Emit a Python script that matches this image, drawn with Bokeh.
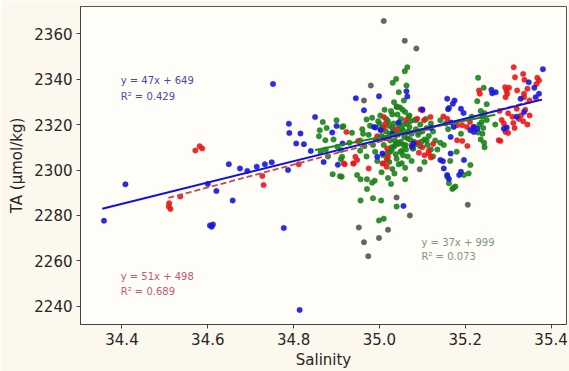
from bokeh.plotting import figure
from bokeh.models import Label, Range1d, FixedTicker, NumeralTickFormatter
from bokeh.embed import file_html
from bokeh.resources import INLINE

# ---------------- data ----------------
blue_sal = [34.358, 34.408, 34.600, 34.605, 34.609, 34.612, 34.620, 34.649, 34.658, 34.675,
            34.692, 34.714, 34.733, 34.749, 34.752, 34.777, 34.787, 34.789, 34.790, 34.806,
            34.814, 34.816, 34.824, 34.840, 34.850, 34.870, 34.890, 34.900, 34.903, 34.914,
            34.945, 34.964, 34.999, 34.991, 35.056, 35.063, 35.065, 35.148, 35.158, 35.162,
            35.175, 35.171, 35.160, 35.190, 35.196, 35.166, 35.166, 35.197, 35.150, 35.158,
            35.162, 35.190, 35.186, 35.261, 35.271, 35.381, 35.348, 35.361, 35.329, 35.297,
            35.167, 35.173, 35.080, 35.076, 34.987, 35.003, 35.007, 34.995, 35.220, 35.228,
            35.212, 35.220, 35.372, 35.364, 35.290, 35.337, 35.142, 35.320, 35.100, 35.263,
            35.030, 35.045, 35.120]
blue_ta = [2277.7, 2293.7, 2293.9, 2275.6, 2275.0, 2276.0, 2290.8, 2302.6, 2286.6, 2300.7,
           2299.6, 2301.5, 2302.5, 2303.4, 2337.9, 2274.5, 2300.0, 2320.4, 2316.3, 2311.7,
           2238.4, 2316.1, 2311.4, 2308.4, 2323.3, 2303.5, 2316.5, 2319.4, 2302.3, 2311.7,
           2331.6, 2326.3, 2332.5, 2318.7, 2284.2, 2334.7, 2332.4, 2303.9, 2331.4, 2327.3,
           2330.6, 2329.2, 2326.8, 2327.0, 2325.1, 2314.6, 2307.3, 2304.4, 2300.7, 2297.8,
           2296.1, 2299.2, 2297.8, 2335.3, 2334.3, 2344.4, 2338.6, 2336.2, 2331.4, 2318.7,
           2320.9, 2319.0, 2311.7, 2310.2, 2319.0, 2317.5, 2307.3, 2305.8, 2319.0, 2318.2,
           2317.5, 2316.8, 2333.6, 2332.1, 2318.2, 2325.5, 2304.4, 2323.5, 2326.7, 2333.8,
           2316.0, 2321.0, 2318.5]

red_sal = [34.509, 34.510, 34.513, 34.536, 34.571, 34.581, 34.587, 34.727, 34.730, 34.812,
           34.919, 34.923, 34.944, 34.948, 34.950, 34.917, 34.940, 34.975, 35.010, 35.018,
           35.092, 35.115, 35.096, 35.100, 35.010, 34.995, 35.149, 35.158, 35.232, 35.234,
           35.313, 35.316, 35.335, 35.338, 35.368, 35.372, 35.366, 35.293, 35.296, 35.302,
           35.298, 35.294, 35.321, 35.337, 35.345, 35.337, 35.350, 35.211, 35.219, 35.181,
           35.193, 35.204, 35.282, 35.300, 35.312, 35.280, 35.300, 35.285, 35.310, 35.320,
           35.330, 35.335, 35.340, 35.350, 35.290, 35.315, 35.325, 35.345, 35.278, 35.294,
           35.181, 35.193, 35.205, 35.090, 35.100, 35.115, 35.120, 35.105, 35.125, 35.010,
           35.015, 35.018, 35.020, 35.088, 35.104, 35.119, 35.014, 35.007, 35.017, 34.939,
           35.040, 35.062, 35.075]
red_ta = [2283.9, 2285.4, 2282.9, 2288.3, 2308.6, 2310.5, 2309.5, 2297.4, 2293.4, 2302.5,
          2302.6, 2316.8, 2305.8, 2304.4, 2312.7, 2302.9, 2302.9, 2300.7, 2302.9, 2305.0,
          2307.6, 2307.3, 2326.7, 2326.3, 2323.3, 2314.9, 2323.6, 2322.6, 2335.0, 2333.6,
          2345.2, 2340.8, 2342.3, 2339.7, 2340.6, 2339.4, 2337.9, 2336.5, 2335.0, 2336.2,
          2333.6, 2332.1, 2335.0, 2333.6, 2335.8, 2332.1, 2330.6, 2321.1, 2318.9, 2319.7,
          2319.7, 2319.0, 2312.8, 2316.3, 2320.7, 2326.0, 2325.0, 2322.0, 2323.5, 2327.0,
          2324.0, 2321.5, 2326.5, 2324.0, 2320.5, 2318.5, 2322.5, 2320.0, 2313.1, 2316.8,
          2313.1, 2312.8, 2310.6, 2312.0, 2310.0, 2308.5, 2305.5, 2306.5, 2311.5, 2318.5,
          2314.0, 2309.5, 2306.0, 2322.6, 2321.9, 2323.3, 2320.4, 2302.9, 2301.4, 2302.9,
          2318.0, 2322.0, 2311.0]

green_sal = [35.065, 35.059, 35.031, 35.039, 35.063, 35.045, 35.034, 35.040, 35.057, 35.230,
             35.243, 35.228, 34.868, 34.861, 34.859, 34.877, 34.900, 34.913, 34.874, 34.875,
             34.902, 34.910, 34.913, 34.910, 34.891, 34.912, 34.863, 34.916, 34.936, 34.880,
             34.930, 34.893, 34.970, 34.983, 34.960, 34.975, 34.955, 34.965, 34.985, 34.990,
             34.970, 34.955, 35.000, 35.005, 35.015, 35.020, 35.025, 35.030, 35.030, 35.035,
             35.040, 35.045, 35.050, 35.050, 35.055, 35.060, 35.062, 35.065, 35.070, 35.072,
             35.075, 35.080, 35.085, 35.090, 35.095, 35.100, 35.105, 35.110, 35.115, 35.120,
             35.125, 35.130, 35.142, 35.135, 35.040, 35.055, 35.025, 35.045, 35.060, 35.075,
             35.010, 34.995, 35.005, 35.020, 35.035, 35.027, 34.971, 34.948, 34.956, 34.971,
             34.983, 34.989, 34.908, 34.956, 34.985, 35.004, 35.040, 35.010, 34.999, 35.170,
             35.177, 35.173, 35.212, 35.208, 35.095, 35.110, 35.120, 35.105, 35.125, 35.030,
             35.060, 35.236, 35.240, 35.238, 35.242, 35.240, 35.236, 35.244, 35.233, 35.245,
             35.230, 35.250, 35.245, 35.155, 35.190, 35.160, 35.250, 35.215, 35.270, 35.150,
             35.180, 35.165, 35.142, 35.158, 35.162, 35.197, 35.012, 35.048, 35.068, 35.082,
             35.022, 35.002, 34.978, 35.092, 35.108, 35.038, 35.052, 35.078, 35.018, 34.962,
             35.008, 35.016, 35.024, 35.033, 35.042, 35.051, 35.058, 35.067, 35.044, 35.036,
             35.028, 35.019, 35.049, 35.056, 35.064, 35.071, 35.012, 35.027, 35.041, 35.054,
             35.033, 35.047, 35.061, 35.023, 35.009, 35.038, 35.052, 35.066, 35.079, 35.087,
             34.997, 35.003, 35.029, 35.043, 35.057, 35.070, 35.085, 35.098, 35.112, 34.992]
green_ta = [2345.2, 2343.5, 2338.4, 2340.1, 2337.2, 2334.3, 2329.9, 2327.7, 2330.6, 2340.6,
            2336.2, 2330.3, 2321.1, 2317.5, 2314.9, 2318.5, 2321.9, 2319.0, 2313.1, 2309.0,
            2310.2, 2308.8, 2305.8, 2304.7, 2298.2, 2297.1, 2308.0, 2319.3, 2316.4, 2306.0,
            2312.0, 2313.5, 2322.3, 2323.0, 2318.0, 2315.5, 2313.0, 2310.5, 2311.0, 2308.0,
            2306.0, 2308.5, 2320.5, 2315.0, 2317.0, 2321.5, 2313.0, 2318.5, 2324.5, 2310.5,
            2315.5, 2320.0, 2322.5, 2312.5, 2317.5, 2325.5, 2309.0, 2314.0, 2319.0, 2321.5,
            2316.0, 2312.5, 2318.0, 2315.5, 2320.0, 2317.0, 2313.5, 2318.5, 2315.0, 2320.5,
            2317.0, 2313.0, 2321.9, 2309.0, 2305.0, 2306.5, 2308.0, 2302.5, 2301.0, 2304.0,
            2311.0, 2304.0, 2299.0, 2296.5, 2298.5, 2293.9, 2291.6, 2297.8, 2295.9, 2295.9,
            2294.4, 2295.3, 2297.3, 2286.6, 2287.6, 2286.6, 2283.9, 2278.6, 2277.8, 2291.7,
            2292.7, 2292.2, 2302.2, 2298.5, 2310.5, 2313.0, 2309.0, 2303.5, 2306.0, 2300.5,
            2296.0, 2326.0, 2323.5, 2321.0, 2318.5, 2316.0, 2313.5, 2312.0, 2320.0, 2325.0,
            2316.5, 2322.0, 2310.0, 2320.5, 2316.0, 2318.0, 2329.0, 2323.5, 2320.0, 2311.0,
            2308.0, 2304.0, 2312.0, 2297.1, 2294.2, 2297.8, 2326.5, 2327.5, 2323.5, 2322.0,
            2319.5, 2324.0, 2319.5, 2316.5, 2322.5, 2311.5, 2308.5, 2309.5, 2304.5, 2316.0,
            2319.0, 2322.5, 2316.0, 2320.5, 2324.5, 2318.5, 2314.5, 2317.0, 2311.5, 2313.0,
            2310.0, 2307.5, 2308.0, 2311.0, 2320.5, 2313.5, 2314.0, 2326.0, 2328.0, 2326.5,
            2317.5, 2316.5, 2311.0, 2303.5, 2306.5, 2307.0, 2303.0, 2306.0, 2309.5, 2311.5,
            2321.5, 2318.0, 2309.0, 2312.0, 2320.0, 2324.0, 2322.0, 2312.5, 2311.0, 2313.5]

grey_sal = [35.010, 35.059, 35.086, 35.094, 35.040, 35.071, 35.020, 34.952, 34.999, 34.964,
            34.974, 35.206, 34.980, 34.964]
grey_ta = [2365.6, 2356.9, 2353.5, 2300.3, 2287.9, 2280.0, 2273.7, 2274.7, 2270.1, 2268.2,
           2262.1, 2284.7, 2337.2, 2330.6]

# regression lines (end points of fitted lines)
fit_blue_x = [34.354, 35.379]
fit_blue_y = [2283.0, 2331.0]
fit_red_x = [34.508, 35.372]
fit_red_y = [2287.7, 2331.2]
fit_green_x = [34.850, 35.270]
fit_green_y = [2308.8, 2324.3]

x_ticks = [34.4, 34.6, 34.8, 35.0, 35.2, 35.4]
y_ticks = [2240, 2260, 2280, 2300, 2320, 2340, 2360]

# ---------------- figure ----------------
p = figure(width=569, height=371, output_backend="svg", toolbar_location=None,
           x_range=Range1d(34.3033, 35.436), y_range=Range1d(2232.0, 2372.0),
           min_border_left=80, min_border_right=3, min_border_top=6, min_border_bottom=45)
p.background_fill_color = "#fffdf8"
p.border_fill_color = "#fcf8ee"
p.outline_line_color = "#555555"
p.outline_line_width = 1
p.grid.visible = False

font = "DejaVu Sans"
for ax in (p.xaxis[0], p.yaxis[0]):
    ax.major_label_text_font = font
    ax.major_label_text_font_size = "15px"
    ax.major_label_text_color = "#262626"
    ax.axis_label_text_font = font
    ax.axis_label_text_font_size = "15px"
    ax.axis_label_text_font_style = "normal"
    ax.axis_label_text_color = "#262626"
    ax.major_tick_in = 0
    ax.major_tick_out = 4
    ax.minor_tick_in = 0
    ax.minor_tick_out = 0
    ax.axis_line_color = "#444444"
    ax.major_tick_line_color = "#444444"
    ax.major_label_standoff = 4
    ax.axis_label_standoff = 5

p.xaxis.ticker = FixedTicker(ticks=x_ticks)
p.yaxis.ticker = FixedTicker(ticks=y_ticks)
p.xaxis.formatter = NumeralTickFormatter(format="0.0")
p.yaxis.formatter = NumeralTickFormatter(format="0")
p.xaxis.axis_label = "Salinity"
p.yaxis.axis_label = "TA (µmol/kg)"
p.xaxis.axis_label_standoff = 3

ms = 5.5
p.scatter(green_sal, green_ta, size=ms, fill_color="#138a13", line_color="#2f5f2f",
          line_width=0.6, fill_alpha=0.9, line_alpha=0.6)
p.scatter(grey_sal, grey_ta, size=ms, fill_color="#4f5a4f", line_color="#4f5a4f",
          line_width=0.6, fill_alpha=0.9, line_alpha=0.6)
p.scatter(red_sal, red_ta, size=ms, fill_color="#f01414", line_color="#c83232",
          line_width=0.6, fill_alpha=0.9, line_alpha=0.6)
p.scatter(blue_sal, blue_ta, size=ms, fill_color="#1414e6", line_color="#2828b4",
          line_width=0.6, fill_alpha=0.9, line_alpha=0.6)

p.line(fit_green_x, fit_green_y, line_color="#1a8a1a", line_width=2)
p.line(fit_red_x, fit_red_y, line_color="#c24a4a", line_width=1.8, line_dash="6 3")
p.line(fit_blue_x, fit_blue_y, line_color="#1010e0", line_width=2)

def ann(x, y, txt, color):
    p.add_layout(Label(x=x, y=y, text=txt, text_color=color, text_font=font,
                       text_font_size="10px", text_baseline="middle", text_align="left"))

ann(34.397, 2339.4, "y = 47x + 649", "#4a4aa8")
ann(34.397, 2332.4, "R² = 0.429", "#4a4aa8")
ann(34.397, 2253.2, "y = 51x + 498", "#c0587a")
ann(34.397, 2246.6, "R² = 0.689", "#c0587a")
ann(35.098, 2268.1, "y = 37x + 999", "#7d967d")
ann(35.098, 2261.9, "R² = 0.073", "#7d967d")

open("out.html", "w").write(file_html(p, INLINE))
